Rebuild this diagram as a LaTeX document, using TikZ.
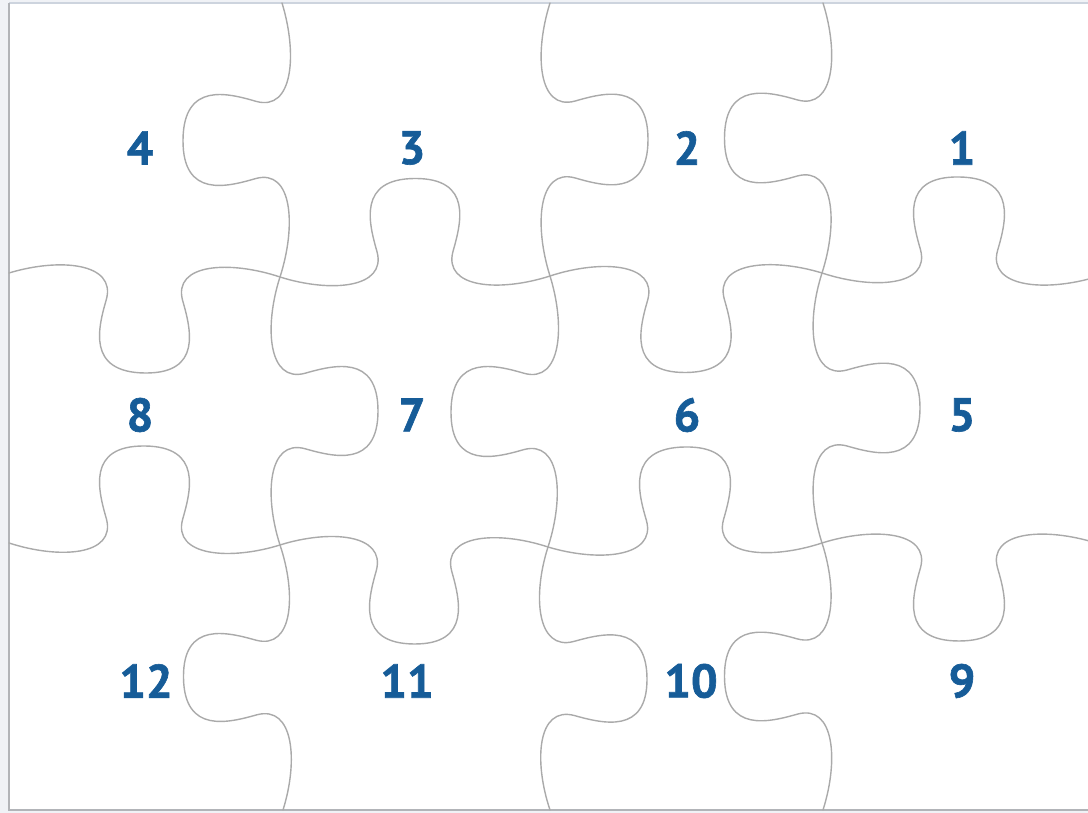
\documentclass[tikz,border=0pt]{standalone}
\usepackage{fontspec}
\setmainfont{PT Sans}
\newfontfamily\pznumfont{PT Sans}[BoldFeatures={FakeBold=1.3}]
\definecolor{pzblue}{RGB}{22,92,152}
\definecolor{pzgray}{RGB}{170,170,170}
\definecolor{pzframe}{RGB}{178,180,184}
\definecolor{pztop}{RGB}{205,212,222}
\definecolor{pzbg}{RGB}{240,242,246}
\tikzset{
  pzline/.style={draw=pzgray, line width=1.4pt, line cap=round, line join=round},
  pznum/.style={text=pzblue, font=\pznumfont\fontsize{47}{47}\selectfont\bfseries, inner sep=0pt}
}
% edge from image point (#1,#2) to (#3,#4); tab direction (#5,#6) in TikZ axes
\newcommand\pzedge[6]{%
  \pgfmathsetmacro\pzax{(#3-#1)/270}%
  \pgfmathsetmacro\pzay{-(#4-#2)/270}%
  \begin{scope}[shift={(#1pt,813pt-#2pt)}, x={(\pzax pt,\pzay pt)}, y={(#5pt,#6pt)}]
    \draw[pzline] (0,0) .. controls (50,-16) and (107,-12) .. (97,25)
      .. controls (89,53) and (77,98) .. (135,98)
      .. controls (193,98) and (181,53) .. (173,25)
      .. controls (163,-12) and (220,-16) .. (270,0);
  \end{scope}}
\begin{document}
\begin{tikzpicture}
\useasboundingbox (0pt,0pt) rectangle (1088pt,813pt);
\fill[pzbg] (0pt,0pt) rectangle (1088pt,813pt);
\fill[white] (9pt,3pt) rectangle (1100pt,810pt);
\draw[pztop, line width=2.5pt] (9pt,810pt) -- (1100pt,810pt);
\draw[pzframe, line width=1.6pt] (1100pt,3pt) -- (9pt,3pt) -- (9pt,810pt);
% vertical line A
\pzedge{282}{3}{280}{277}{-1}{0}
\pzedge{280}{277}{280}{545}{1}{0}
\pzedge{280}{545}{283}{810}{-1}{0}
% vertical line B
\pzedge{550}{3}{550}{276}{1}{0}
\pzedge{550}{276}{548}{547}{-1}{0}
\pzedge{548}{547}{550}{810}{1}{0}
% vertical line C
\pzedge{823}{3}{822}{273}{-1}{0}
\pzedge{822}{273}{822}{543}{1}{0}
\pzedge{822}{543}{823}{810}{-1}{0}
% horizontal line 1
\pzedge{9}{273}{280}{277}{0}{-1}
\pzedge{280}{277}{550}{276}{0}{1}
\pzedge{550}{276}{822}{273}{0}{-1}
\pzedge{822}{273}{1096}{277}{0}{1}
% horizontal line 2
\pzedge{9}{543}{280}{545}{0}{1}
\pzedge{280}{545}{548}{547}{0}{-1}
\pzedge{548}{547}{822}{543}{0}{1}
\pzedge{822}{543}{1096}{543}{0}{-1}
% numbers
\node[pznum] (n4) at (140pt,665pt) {4};
\node[pznum] (n3) at (412pt,665pt) {3};
\node[pznum] (n2) at (687pt,665pt) {2};
\node[pznum] (n1) at (962pt,665pt) {1};
\node[pznum] (n8) at (140pt,398pt) {8};
\node[pznum] (n7) at (412pt,398pt) {7};
\node[pznum] (n6) at (687pt,398pt) {6};
\node[pznum] (n5) at (962pt,398pt) {5};
\node[pznum] (n12) at (146pt,132pt) {12};
\node[pznum] (n11) at (407pt,132pt) {11};
\node[pznum] (n10) at (691pt,132pt) {10};
\node[pznum] (n9) at (962pt,132pt) {9};
\end{tikzpicture}
\end{document}
